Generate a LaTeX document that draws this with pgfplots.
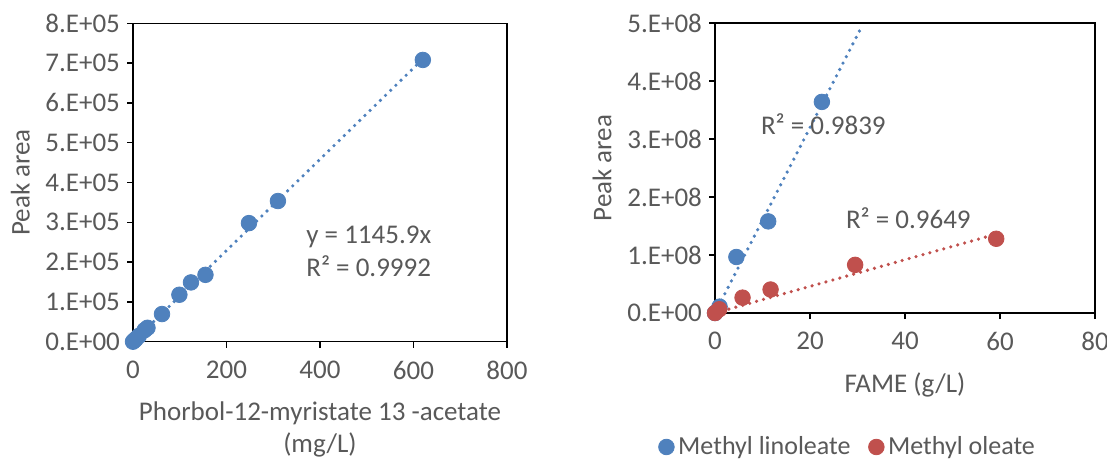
\documentclass[border=0pt]{standalone}
\usepackage{fontspec}
\setmainfont{Carlito}
\usepackage{pgfplots}
\pgfplotsset{compat=1.18}
\definecolor{xlblue}{HTML}{4F81BD}
\definecolor{xlred}{HTML}{C0504D}
\definecolor{txtgray}{HTML}{595959}

\pgfplotsset{
  excel/.style={
    scale only axis,
    axis line style={black, line width=0.75pt},
    tick style={black, line width=0.75pt},
    tick align=outside, major tick length=3pt,
    xtick pos=bottom, ytick pos=left,
    font=\fontsize{13.5}{15}\selectfont,
    ticklabel style={text=txtgray},
    xticklabel style={yshift=-3pt},
    label style={text=txtgray},
    /pgf/number format/assume math mode=true,
    scaled ticks=false,
  },
  trend/.style={line width=1.8pt, dash pattern=on 0pt off 3.6pt, line cap=round},
  pts/.style={only marks, mark=*, mark size=3.9pt},
}
\tikzset{ann/.style={anchor=west, inner sep=0, text=txtgray, font=\fontsize{13.5}{15}\selectfont}}

\begin{document}
\begin{tikzpicture}
\useasboundingbox (0,0) rectangle (553.5pt,231.5pt);

% left: PMA calibration
\begin{axis}[excel,
    at={(66.5pt,60.65pt)}, anchor=south west,
    width=187pt, height=159.2pt,
    xmin=0, xmax=800, ymin=0, ymax=800000,
    xtick={0,200,400,600,800},
    ytick={0,100000,200000,300000,400000,500000,600000,700000,800000},
    yticklabels={0.E+00,1.E+05,2.E+05,3.E+05,4.E+05,5.E+05,6.E+05,7.E+05,8.E+05},
    xlabel={Phorbol-12-myristate 13 -acetate\\(mg/L)},
    xlabel style={align=center, at={(axis description cs:0.5,-0.274)}, anchor=center, font=\fontsize{13.5}{16}\selectfont},
    ylabel={Peak area},
    ylabel style={at={(axis description cs:-0.301,0.5)}, anchor=center},
]
\addplot[trend, xlblue] coordinates {(0,0)(620,710458)};
\addplot[pts, xlblue] coordinates {
(0,0)(3.1,3500)(6.2,7000)(12.4,14500)(24.8,29000)(31,35000)(62,69500)
(99.2,118000)(124,149000)(155,168000)(248,298000)(310,353500)(620,708000)
};
\node[ann] at (axis cs:370,263000) {y = 1145.9x};
\node[ann] at (axis cs:370,190000) {R² = 0.9992};
\end{axis}

% right: FAME calibration
\begin{axis}[excel,
    at={(357.5pt,75pt)}, anchor=south west,
    width=190pt, height=145pt,
    xmin=0, xmax=80, ymin=0, ymax=5e8,
    xtick={0,20,40,60,80},
    ytick={0,1e8,2e8,3e8,4e8,5e8},
    yticklabels={0.E+00,1.E+08,2.E+08,3.E+08,4.E+08,5.E+08},
    xlabel={FAME (g/L)},
    xlabel style={at={(axis description cs:0.5,-0.248)}, anchor=center},
    ylabel={Peak area},
    ylabel style={at={(axis description cs:-0.297,0.5)}, anchor=center},
    legend columns=2,
    legend style={draw=none, at={(0.352,-0.462)}, anchor=center,
      font=\fontsize{13}{15}\selectfont, text=txtgray,
      /tikz/every even column/.append style={column sep=7pt},
      inner sep=0pt},
]
\addplot[trend, xlblue, forget plot] coordinates {(0,0)(30.9,494000000)};
\addplot[trend, xlred, forget plot] coordinates {(0,0)(59.2,136000000)};
\addplot[pts, xlblue] coordinates {(0,0)(0.96,11000000)(4.5,96600000)(11.2,158000000)(22.5,364000000)};
\addlegendentry{Methyl linoleate}
\addplot[pts, xlred] coordinates {(0,0)(0.9,6500000)(5.8,26500000)(11.7,40500000)(29.5,83000000)(59.2,128000000)};
\addlegendentry{Methyl oleate}
\node[ann] at (axis cs:9.6,326000000) {R² = 0.9839};
\node[ann] at (axis cs:27.5,164000000) {R² = 0.9649};
\end{axis}
\end{tikzpicture}
\end{document}
